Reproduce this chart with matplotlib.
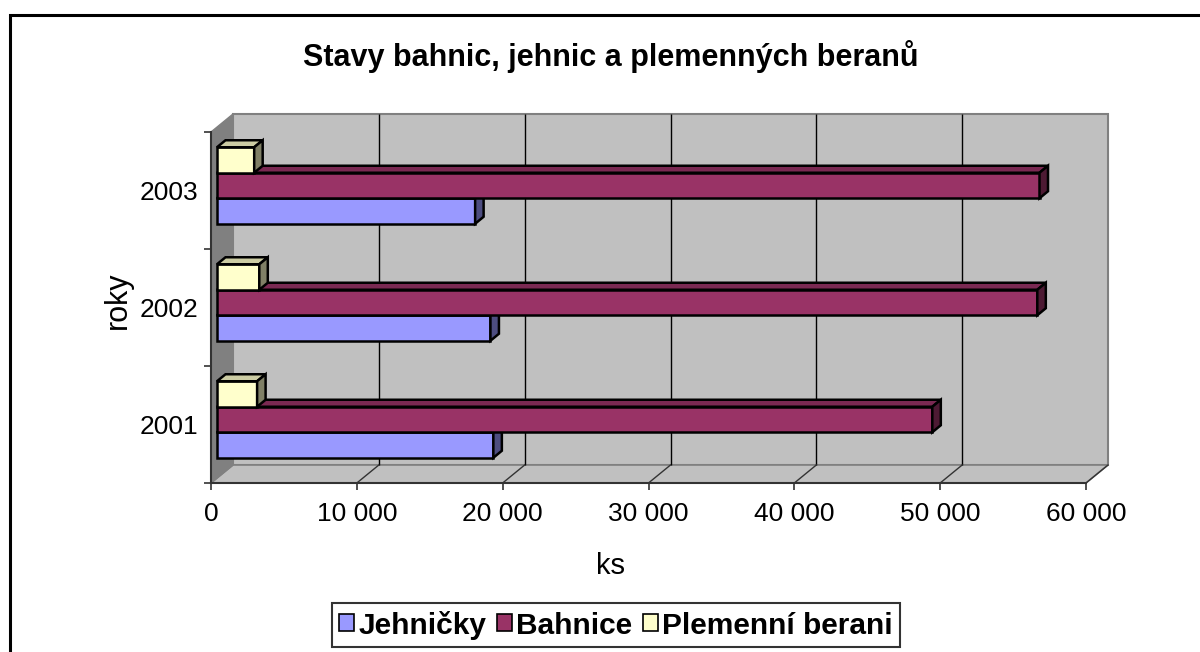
import matplotlib.pyplot as plt
from matplotlib.patches import Polygon, Rectangle, Patch
from matplotlib.transforms import offset_copy

plt.rcParams['font.family'] = ['Liberation Sans', 'DejaVu Sans']

# data
years = ['2001', '2002', '2003']
series = ['Jehničky', 'Bahnice', 'Plemenní berani']
jehnicky = [18950, 18750, 17700]
bahnice = [49050, 56250, 56400]
berani = [2750, 2900, 2550]
x_ticks = [0, 10000, 20000, 30000, 40000, 50000, 60000]
x_tick_labels = ['0', '10 000', '20 000', '30 000', '40 000', '50 000', '60 000']

values = [jehnicky, bahnice, berani]
face_colors = ['#9999FF', '#993366', '#FFFFCC']
top_colors = ['#7A7ACC', '#7A2952', '#CCCCA3']
side_colors = ['#4D4D80', '#4D1A33', '#808066']

W, H = 1200, 652
fig = plt.figure(figsize=(W / 100, H / 100), dpi=100)

# front plane of the 3d box, in pixels
x0, x1, y_bot, y_top = 211, 1086, 483, 132
ax = fig.add_axes([x0 / W, 1 - y_bot / H, (x1 - x0) / W, (y_bot - y_top) / H])
ax.set_xlim(0, 60000)
ax.set_ylim(0.5, 3.5)
ax.set_facecolor('none')

# pixel -> data helpers for the fake depth
sx = (x1 - x0) / 60000
sy = (y_bot - y_top) / 3.0
wall_dx, wall_dy = 22, 18      # depth of walls (px)
bar_dx, bar_dy = 8.5, 7        # depth of bars (px)

# walls
dxa, dya = wall_dx / (x1 - x0), wall_dy / (y_bot - y_top)
ax.add_patch(Rectangle((dxa, dya), 1, 1, transform=ax.transAxes, facecolor='#C0C0C0',
                       edgecolor='#808080', linewidth=1.5, clip_on=False, zorder=0))
ax.add_patch(Polygon([(0, 0), (1, 0), (1 + dxa, dya), (dxa, dya)], closed=True,
                     transform=ax.transAxes, facecolor='#C0C0C0', edgecolor='#808080',
                     linewidth=1.2, clip_on=False, zorder=0.1))
ax.add_patch(Polygon([(0, 0), (dxa, dya), (dxa, 1 + dya), (0, 1)], closed=True,
                     transform=ax.transAxes, facecolor='#808080', edgecolor='#808080',
                     linewidth=1.0, clip_on=False, zorder=0.1))

# gridlines on back wall + floor diagonals
back_tr = offset_copy(ax.transData, fig=fig, x=wall_dx, y=wall_dy, units='dots')
ax.vlines(x_ticks[1:-1], 0.5, 3.5, colors='black', linewidth=1.0, transform=back_tr,
          zorder=0.5, clip_on=False)
for v in x_ticks[1:]:
    ax.plot([v, v + wall_dx / sx], [0.5, 0.5 + wall_dy / sy], color='#333333',
            linewidth=1.0, zorder=0.5, clip_on=False)

# bars
bar_tr = offset_copy(ax.transData, fig=fig, x=6, y=5, units='dots')
hb = 25.5 / sy
ddx, ddy = bar_dx / sx, bar_dy / sy
ypos = [1, 2, 3]
for k, vals in enumerate(values):
    yc = [p + (k - 1) * hb for p in ypos]
    ax.barh(yc, vals, height=hb, color=face_colors[k], edgecolor='black', linewidth=1.8,
            transform=bar_tr, zorder=3, clip_on=False)
    for y, w in zip(yc, vals):
        ytop, ylow = y + hb / 2, y - hb / 2
        ax.add_patch(Polygon([(0, ytop), (w, ytop), (w + ddx, ytop + ddy), (ddx, ytop + ddy)],
                             closed=True, facecolor=top_colors[k], edgecolor='black',
                             linewidth=1.8, transform=bar_tr, zorder=3, clip_on=False))
        ax.add_patch(Polygon([(w, ylow), (w + ddx, ylow + ddy), (w + ddx, ytop + ddy), (w, ytop)],
                             closed=True, facecolor=side_colors[k], edgecolor='black',
                             linewidth=1.8, transform=bar_tr, zorder=3, clip_on=False))

# axes styling
for s in ['top', 'right']:
    ax.spines[s].set_visible(False)
for s in ['left', 'bottom']:
    ax.spines[s].set_color('#333333')
    ax.spines[s].set_linewidth(1.5)
    ax.spines[s].set_zorder(2)

ax.set_xticks(x_ticks)
ax.set_xticklabels(x_tick_labels)
ax.tick_params(axis='x', direction='out', length=5, width=1.2, color='#333333',
               labelsize=19, pad=9)
ax.set_yticks(ypos)
ax.set_yticklabels(years)
ax.set_yticks([0.5, 1.5, 2.5, 3.5], minor=True)
ax.tick_params(axis='y', which='major', length=0, labelsize=19, pad=9)
ax.tick_params(axis='y', which='minor', direction='out', length=5, width=1.2, color='#333333')

# texts
fig.text(611 / W, 1 - 57 / H, 'Stavy bahnic, jehnic a plemenných beranů', ha='center',
         va='center', fontsize=22, fontweight='bold')
fig.text(611 / W, 1 - 566 / H, 'ks', ha='center', va='center', fontsize=21)
fig.text(118 / W, 1 - 300 / H, 'roky', ha='center', va='center', fontsize=22, rotation=90)

# legend
handles = [Patch(facecolor=c, edgecolor='black', linewidth=1.2) for c in face_colors]
leg = fig.legend(handles, series, loc='center', bbox_to_anchor=(616 / W, 1 - 625 / H),
                 ncol=3, frameon=True, fancybox=False, edgecolor='black',
                 prop={'weight': 'bold', 'size': 21.5}, handlelength=0.5, handleheight=0.5,
                 handletextpad=0.15, columnspacing=0.35, borderpad=0.25, borderaxespad=0)
leg.get_frame().set_linewidth(1.5)

# outer chart border (runs off the right and bottom edge)
fig.add_artist(Rectangle((10 / W, -0.05), 1.1, 1 - 15 / H + 0.05, transform=fig.transFigure,
                         facecolor='none', edgecolor='black', linewidth=2.2))

fig.savefig('out.png', dpi=100)
